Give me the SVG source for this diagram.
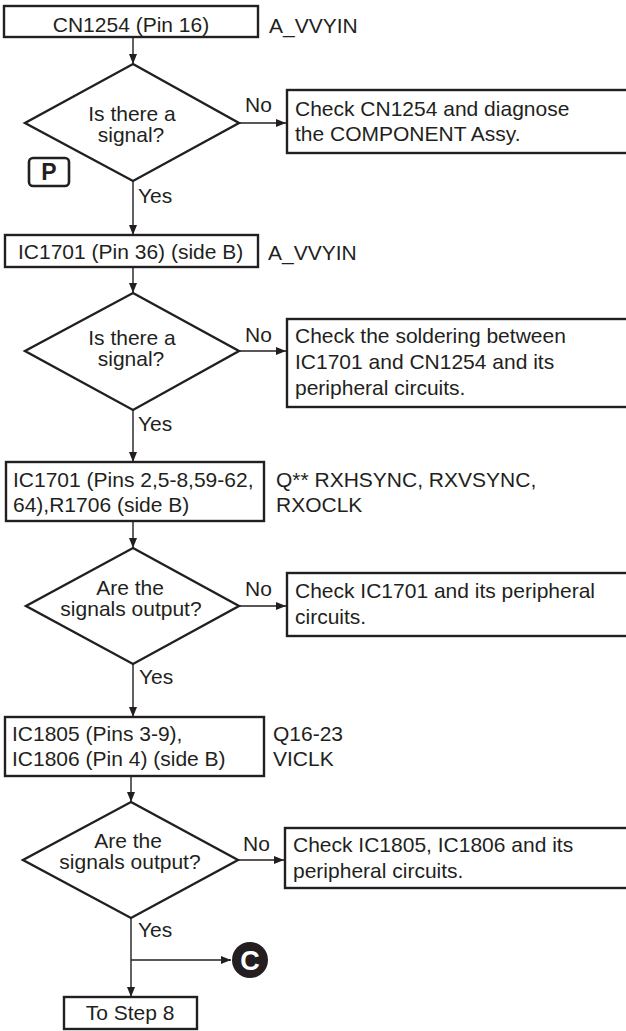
<svg xmlns="http://www.w3.org/2000/svg" width="626" height="1031" viewBox="0 0 626 1031">
<style>
text{font-family:"Liberation Sans",Arial,sans-serif;font-size:21px;fill:#231f20}
.c{text-anchor:middle}
.box{fill:#fff;stroke:#231f20;stroke-width:2.4}
.dia{fill:#fff;stroke:#231f20;stroke-width:2.4;stroke-linejoin:miter}
.ln{fill:none;stroke:#231f20;stroke-width:1.4}
</style>
<defs>
<marker id="ah" viewBox="0 0 10 8" refX="10" refY="4" markerWidth="10" markerHeight="8" markerUnits="userSpaceOnUse" orient="auto">
<path d="M0,0 L10,4 L0,8 Z" fill="#231f20"/>
</marker>
</defs>
<rect width="626" height="1031" fill="#fff"/>
<g id="connectors">
<line class="ln" x1="133" y1="37" x2="133" y2="64" marker-end="url(#ah)"/>
<line class="ln" x1="239" y1="123" x2="286" y2="123" marker-end="url(#ah)"/>
<line class="ln" x1="133" y1="181" x2="133" y2="235" marker-end="url(#ah)"/>
<line class="ln" x1="133" y1="267" x2="133" y2="293" marker-end="url(#ah)"/>
<line class="ln" x1="239" y1="351" x2="286" y2="351" marker-end="url(#ah)"/>
<line class="ln" x1="133" y1="410" x2="133" y2="462" marker-end="url(#ah)"/>
<line class="ln" x1="133" y1="521" x2="133" y2="548" marker-end="url(#ah)"/>
<line class="ln" x1="239" y1="606" x2="286" y2="606" marker-end="url(#ah)"/>
<line class="ln" x1="133" y1="664" x2="133" y2="717" marker-end="url(#ah)"/>
<line class="ln" x1="131" y1="776" x2="131" y2="802" marker-end="url(#ah)"/>
<line class="ln" x1="238" y1="860" x2="284" y2="860" marker-end="url(#ah)"/>
<line class="ln" x1="131" y1="918" x2="131" y2="997" marker-end="url(#ah)"/>
<line class="ln" x1="131" y1="960" x2="231" y2="960" marker-end="url(#ah)"/>
<text x="245" y="112">No</text>
<text x="138" y="203">Yes</text>
<text x="245" y="342">No</text>
<text x="138" y="431">Yes</text>
<text x="245" y="596">No</text>
<text x="139" y="684">Yes</text>
<text x="243" y="851">No</text>
<text x="138" y="937">Yes</text>
</g>
<g id="n1">
<rect class="box" x="4" y="6" width="254" height="31"/>
<text class="c" x="131" y="32">CN1254 (Pin 16)</text>
<text x="269" y="33">A_VVYIN</text>
</g>
<g id="d1">
<polygon class="dia" points="133,64 239,123 133,181 25,123"/>
<text class="c" x="132" y="121">Is there a</text>
<text class="c" x="131" y="142">signal?</text>
</g>
<g id="r1">
<rect class="box" x="287" y="90" width="360" height="63"/>
<text x="295" y="116">Check CN1254 and diagnose</text>
<text x="295" y="141">the COMPONENT Assy.</text>
</g>
<g id="p">
<rect x="29" y="158" width="40" height="28" rx="4" fill="#fff" stroke="#231f20" stroke-width="2.6"/>
<text class="c" x="49" y="180" style="font-weight:bold;font-size:23px">P</text>
</g>
<g id="n2">
<rect class="box" x="5" y="235" width="253" height="32"/>
<text x="18" y="259">IC1701 (Pin 36) (side B)</text>
<text x="268" y="260">A_VVYIN</text>
</g>
<g id="d2">
<polygon class="dia" points="133,293 239,351 133,410 25,351"/>
<text class="c" x="132" y="345">Is there a</text>
<text class="c" x="131" y="366">signal?</text>
</g>
<g id="r2">
<rect class="box" x="287" y="319" width="360" height="88"/>
<text x="295" y="343">Check the soldering between</text>
<text x="295" y="369">IC1701 and CN1254 and its</text>
<text x="295" y="395">peripheral circuits.</text>
</g>
<g id="n3">
<rect class="box" x="6" y="462" width="258" height="59"/>
<text x="13" y="487">IC1701 (Pins 2,5-8,59-62,</text>
<text x="13" y="512">64),R1706 (side B)</text>
<text x="276" y="487">Q** RXHSYNC, RXVSYNC,</text>
<text x="276" y="512">RXOCLK</text>
</g>
<g id="d3">
<polygon class="dia" points="133,548 239,606 133,664 26,606"/>
<text class="c" x="130" y="595">Are the</text>
<text class="c" x="131" y="616">signals output?</text>
</g>
<g id="r3">
<rect class="box" x="287" y="573" width="360" height="63"/>
<text x="295" y="598">Check IC1701 and its peripheral</text>
<text x="295" y="624">circuits.</text>
</g>
<g id="n4">
<rect class="box" x="5" y="717" width="259" height="59"/>
<text x="12" y="741">IC1805 (Pins 3-9),</text>
<text x="12" y="766">IC1806 (Pin 4) (side B)</text>
<text x="273" y="741">Q16-23</text>
<text x="273" y="766">VICLK</text>
</g>
<g id="d4">
<polygon class="dia" points="131,802 238,860 131,918 23,860"/>
<text class="c" x="128" y="848">Are the</text>
<text class="c" x="130" y="869">signals output?</text>
</g>
<g id="r4">
<rect class="box" x="285" y="828" width="360" height="60"/>
<text x="293" y="852">Check IC1805, IC1806 and its</text>
<text x="293" y="878">peripheral circuits.</text>
</g>
<g id="c">
<circle cx="250" cy="960" r="18" fill="#231f20"/>
<text class="c" x="250" y="970" style="font-weight:bold;font-size:27px;fill:#fff">C</text>
</g>
<g id="n5">
<rect class="box" x="64" y="997" width="133" height="32"/>
<text class="c" x="130" y="1020">To Step 8</text>
</g>
</svg>
